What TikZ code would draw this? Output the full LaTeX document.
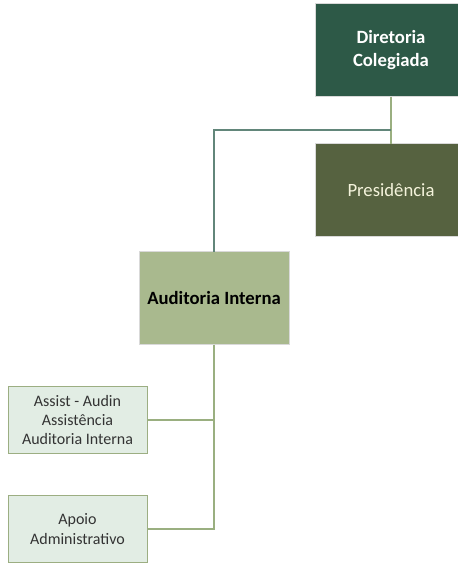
\documentclass[tikz,border=0pt]{standalone}
\usepackage{fontspec}
\setmainfont{Carlito}
\usetikzlibrary{positioning}

\definecolor{dirgreen}{HTML}{2D5947}
\definecolor{presolive}{HTML}{566240}
\definecolor{audolive}{HTML}{A9B98E}
\definecolor{subfill}{HTML}{E2EDE4}
\definecolor{subline}{HTML}{9CAE82}
\definecolor{linkolive}{HTML}{9AAF80}
\definecolor{linkteal}{HTML}{62867A}

\begin{document}
\begin{tikzpicture}[x=1pt, y=-1pt, thick,
  big/.style = {draw=white!85!black, line width=0.8pt, outer sep=0pt, minimum width=152pt, minimum height=93pt, align=center, inner sep=0pt, font=\fontsize{18.7}{22.7}\selectfont},
  small/.style = {draw=subline, fill=subfill, line width=1pt, outer sep=0pt, minimum width=139pt, minimum height=67pt, align=center, inner sep=0pt, text=black!80, font=\fontsize{16}{19.3}\selectfont},
  link/.style = {draw=linkolive, line width=1.2pt}]
\useasboundingbox (0,0) rectangle (458,563);
\node[big, fill=dirgreen, text=white, font=\fontsize{18.7}{22.7}\selectfont\bfseries] (dir) at (391,50) {Diretoria\\Colegiada};
\node[big, fill=presolive, text=white!90!olive] (pres) [below=47pt of dir] {Presidência};
\node[big, fill=audolive, minimum width=150pt, font=\fontsize{18.7}{22.7}\selectfont\bfseries] (aud) [below left=15pt and 26pt of pres] {Auditoria Interna};
\node[small] (assist) [below left=42pt and -8pt of aud] {Assist - Audin\\Assistência\\Auditoria Interna};
\node[small] (apoio) [below=42pt of assist] {Apoio\\Administrativo};
\coordinate (j) at (391,130);
\draw[link] (dir) -- (pres);
\draw[link, draw=linkteal] (j) -| (aud);
\draw[link] (aud) |- (apoio);
\draw[link] (assist) -- (assist -| aud);
\end{tikzpicture}
\end{document}
